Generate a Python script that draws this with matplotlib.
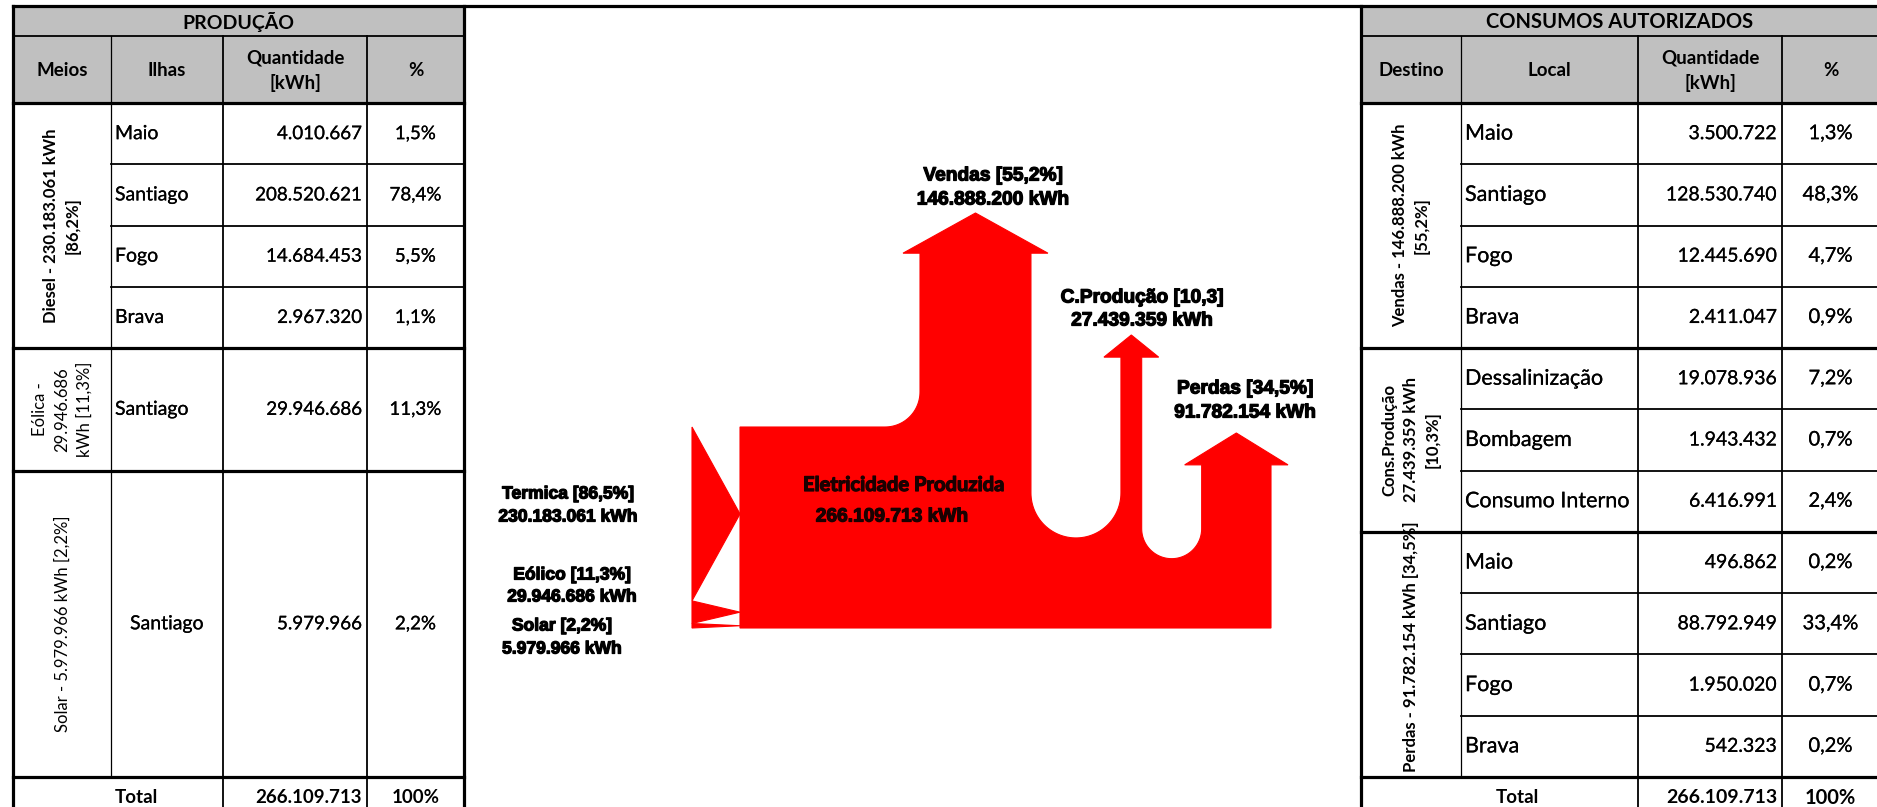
import matplotlib
matplotlib.use("Agg")
import matplotlib.pyplot as plt
from matplotlib.patches import Rectangle, Polygon
import matplotlib.patheffects as pe
import numpy as np

# ---------------- data ----------------
prod_title = "PRODUÇÃO"
prod_headers = ["Meios", "Ilhas", "Quantidade\n[kWh]", "%"]
prod_groups = ["Diesel - 230.183.061 kWh\n[86,2%]",
               "Eólica -\n29.946.686\nkWh [11,3%]",
               "Solar - 5.979.966 kWh [2,2%]"]
prod_group_bold = [True, False, False]
prod_items = [["Maio", "Santiago", "Fogo", "Brava"], ["Santiago"], ["Santiago"]]
prod_kwh = [[4010667, 208520621, 14684453, 2967320], [29946686], [5979966]]
prod_pct = [[1.5, 78.4, 5.5, 1.1], [11.3], [2.2]]
prod_total = 266109713

cons_title = "CONSUMOS AUTORIZADOS"
cons_headers = ["Destino", "Local", "Quantidade\n[kWh]", "%"]
cons_groups = ["Vendas - 146.888.200 kWh\n[55,2%]",
               "Cons.Produção\n27.439.359 kWh\n[10,3%]",
               "Perdas - 91.782.154 kWh [34,5%]"]
cons_group_bold = [True, True, True]
cons_items = [["Maio", "Santiago", "Fogo", "Brava"],
              ["Dessalinização", "Bombagem", "Consumo Interno"],
              ["Maio", "Santiago", "Fogo", "Brava"]]
cons_kwh = [[3500722, 128530740, 12445690, 2411047],
            [19078936, 1943432, 6416991],
            [496862, 88792949, 1950020, 542323]]
cons_pct = [[1.3, 48.3, 4.7, 0.9], [7.2, 0.7, 2.4], [0.2, 33.4, 0.7, 0.2]]
cons_total = 266109713

in_names = ["Termica [86,5%]", "Eólico [11,3%]", "Solar [2,2%]"]
in_values = ["230.183.061 kWh", "29.946.686 kWh", "5.979.966 kWh"]
in_flows = [230183061, 29946686, 5979966]
out_names = ["Vendas [55,2%]", "C.Produção [10,3]", "Perdas [34,5%]"]
out_values = ["146.888.200 kWh", "27.439.359 kWh", "91.782.154 kWh"]
out_flows = [146888200, 27439359, 91782154]
center_name = "Eletricidade Produzida"
center_value = "266.109.713 kWh"

# ---------------- figure ----------------
W, H = 1877, 807
fig = plt.figure(figsize=(W / 100, H / 100), dpi=100)
ax = fig.add_axes([0, 0, 1, 1])
ax.set_xlim(0, W)
ax.set_ylim(H, 0)
ax.axis("off")

TFONT = "Lato"
GRAY = "#c0c0c0"
THICK, MID, THIN = 2.3, 1.3, 0.9
thick_txt = [pe.withStroke(linewidth=0.15, foreground="black")]


def fmt_int(n):
    return f"{n:,}".replace(",", ".")


def fmt_pct(p):
    return f"{p:.1f}".replace(".", ",") + "%"


def draw_table(xc, title, headers, groups, gbold, items, kwh, pct, spans,
               item_center, total, gfs, ifs, nfs, pfs, tfs, bottom_anchor):
    y_t0, y_t1, y_h1, y_tot, y_end = 6, 36, 103, 777, 830
    row_h = (y_tot - y_h1) / sum(sum(s) for s in spans)
    x0, x1 = xc[0], xc[-1]
    ax.add_patch(Rectangle((x0, y_t0), x1 - x0, y_h1 - y_t0, color=GRAY, lw=0, zorder=1))
    ax.text((x0 + x1) / 2, (y_t0 + y_t1) / 2 + 1, title, ha="center", va="center",
            fontsize=tfs, fontweight="bold", family=TFONT)
    for j, h in enumerate(headers):
        ax.text((xc[j] + xc[j + 1]) / 2, (y_t1 + y_h1) / 2 + 1, h, ha="center", va="center",
                fontsize=13.5, fontweight="bold", family=TFONT, linespacing=1.5)
    ax.plot([x0, x1], [y_t1, y_t1], color="k", lw=MID, zorder=3)
    ax.plot([x0, x1], [y_h1, y_h1], color="k", lw=THICK, zorder=3)
    for xx in xc[1:-1]:
        ax.plot([xx, xx], [y_t1, y_tot], color="k", lw=THIN if xx == xc[1] else MID, zorder=3)
    for xx in xc[2:-1]:
        ax.plot([xx, xx], [y_tot, y_end], color="k", lw=MID, zorder=3)
    y = y_h1
    for g in range(len(groups)):
        gy0 = y
        for i, it in enumerate(items[g]):
            h = spans[g][i] * row_h
            cy = y + h / 2
            if item_center[g]:
                ax.text((xc[1] + xc[2]) / 2, cy, it, ha="center", va="center",
                        fontsize=ifs, family=TFONT, path_effects=thick_txt)
            else:
                ax.text(xc[1] + 4, cy, it, ha="left", va="center", fontsize=ifs,
                        family=TFONT, path_effects=thick_txt)
            ax.text(xc[3] - 5, cy, fmt_int(kwh[g][i]), ha="right", va="center",
                    fontsize=nfs, family=TFONT, path_effects=thick_txt)
            ax.text((xc[3] + xc[4]) / 2, cy, fmt_pct(pct[g][i]), ha="center", va="center",
                    fontsize=pfs, family=TFONT, path_effects=thick_txt)
            y += h
            if i < len(items[g]) - 1:
                ax.plot([xc[1], x1], [y, y], color="k", lw=MID, zorder=3)
        clip = Rectangle((xc[0], gy0 + 1), xc[1] - xc[0], y - gy0 - 2, transform=ax.transData)
        if bottom_anchor[g]:
            t = ax.text((xc[0] + xc[1]) / 2, y - 5, groups[g], ha="left", va="center",
                        rotation=90, rotation_mode="anchor", fontsize=gfs[g],
                        fontweight="bold" if gbold[g] else "normal", family=TFONT)
        else:
            t = ax.text((xc[0] + xc[1]) / 2, (gy0 + y) / 2, groups[g], ha="center", va="center",
                        rotation=90, rotation_mode="anchor", fontsize=gfs[g],
                        fontweight="bold" if gbold[g] else "normal", family=TFONT,
                        linespacing=1.45, multialignment="center")
        t.set_clip_path(clip)
        ax.plot([x0, x1], [y, y], color="k", lw=THICK, zorder=3)
    ty = (y_tot + y_end) / 2 - 6
    ax.text((xc[0] + xc[2]) / 2 + 18, ty, "Total", ha="center", va="center",
            fontsize=13.5, fontweight="bold", family=TFONT)
    ax.text(xc[3] - 5, ty, fmt_int(total), ha="right", va="center",
            fontsize=nfs, fontweight="bold", family=TFONT)
    ax.text((xc[3] + xc[4]) / 2, ty, "100%", ha="center", va="center",
            fontsize=pfs, fontweight="bold", family=TFONT)
    for xx in (x0, x1):
        ax.plot([xx, xx], [y_t0, y_end], color="k", lw=THICK, zorder=3)


draw_table([13, 111, 223, 367, 464], prod_title, prod_headers, prod_groups, prod_group_bold,
           prod_items, prod_kwh, prod_pct, [[1, 1, 1, 1], [2], [5]], [False, False, True],
           prod_total, [12, 12, 12], 14, 13.5, 13.5, 14, [False, False, False])
draw_table([1361, 1461, 1638, 1782, 1879], cons_title, cons_headers, cons_groups,
           cons_group_bold, cons_items, cons_kwh, cons_pct, [[1, 1, 1, 1], [1, 1, 1], [1, 1, 1, 1]],
           [False, False, False], cons_total, [12, 12, 12], 15.5, 14, 14.5, 14.5,
           [False, False, True])
ax.plot([13, W], [6, 6], color="k", lw=THICK, zorder=4)

# ---------------- sankey ----------------
RED = "#ff0000"
x_in, x_box = 692, 740
y_top, trunk_h = 427, 201
total = sum(in_flows)
k = trunk_h / total
y_bot = y_top + trunk_h

# inputs: arrow-like wedges pointing into the trunk
yy = y_top
for f in in_flows:
    h = f * k
    ax.add_patch(Polygon([(x_in, yy), (x_box, yy + h / 2), (x_in, yy + h)], closed=True,
                         fc=RED, ec=RED, lw=0.8, zorder=2))
    yy += h

# outputs
out_w = [f * k for f in out_flows]
left0 = 920
rc = 35
u_r = [45, 30]
tips = [213, 335, 433]
over = 17
head_len = [0.2 * w + 18 for w in out_w]

lefts = [left0]
for i in range(1, 3):
    lefts.append(lefts[-1] + out_w[i - 1] + 2 * u_r[i - 1])
x_end = lefts[-1] + out_w[-1]
bands = np.cumsum([y_top] + out_w)

pts = [(x_box, y_top), (left0 - rc, y_top)]
t = np.radians(np.linspace(90, 0, 30))
cx, cy = left0 - rc, y_top - rc
pts += list(zip(cx + rc * np.cos(t), cy + rc * np.sin(t)))
for i in range(3):
    l, w = lefts[i], out_w[i]
    base = tips[i] + head_len[i]
    pts += [(l, base), (l - over, base), (l + w / 2, tips[i]), (l + w + over, base), (l + w, base)]
    if i < 2:
        R = u_r[i]
        ucx, ucy = l + w + R, bands[i + 1] - R
        t = np.radians(np.linspace(180, 0, 60))
        pts += list(zip(ucx + R * np.cos(t), ucy + R * np.sin(t)))
pts += [(x_end, y_bot), (x_box, y_bot)]
ax.add_patch(Polygon(pts, closed=True, fc=RED, ec=RED, lw=0.8, zorder=2))

# labels
LFONT = "Liberation Sans"
stroke = [pe.withStroke(linewidth=0.9, foreground="black")]
out_lab_pos = [(993, 176, 200), (1142, 298, 321), (1245, 389, 413)]
for (x, y1, y2), n, v in zip(out_lab_pos, out_names, out_values):
    ax.text(x, y1, n, ha="center", va="center", fontsize=13.8, fontweight="bold",
            family=LFONT, path_effects=stroke)
    ax.text(x, y2, v, ha="center", va="center", fontsize=13.8, fontweight="bold",
            family=LFONT, path_effects=stroke)
in_lab_pos = [(568, 494, 517), (572, 575, 597), (562, 626, 649)]
for (x, y1, y2), n, v in zip(in_lab_pos, in_names, in_values):
    ax.text(x, y1, n, ha="center", va="center", fontsize=12.6, fontweight="bold",
            family=LFONT, path_effects=stroke)
    ax.text(x, y2, v, ha="center", va="center", fontsize=12.6, fontweight="bold",
            family=LFONT, path_effects=stroke)
ax.text(904, 485, center_name, ha="center", va="center", fontsize=14.5, fontweight="bold",
        family=TFONT, color="#1a0000",
        path_effects=[pe.withStroke(linewidth=0.9, foreground="#1a0000")])
ax.text(892, 517, center_value, ha="center", va="center", fontsize=13.8, fontweight="bold",
        family=LFONT, color="#1a0000",
        path_effects=[pe.withStroke(linewidth=0.9, foreground="#1a0000")])

fig.savefig("out.png", dpi=100)
